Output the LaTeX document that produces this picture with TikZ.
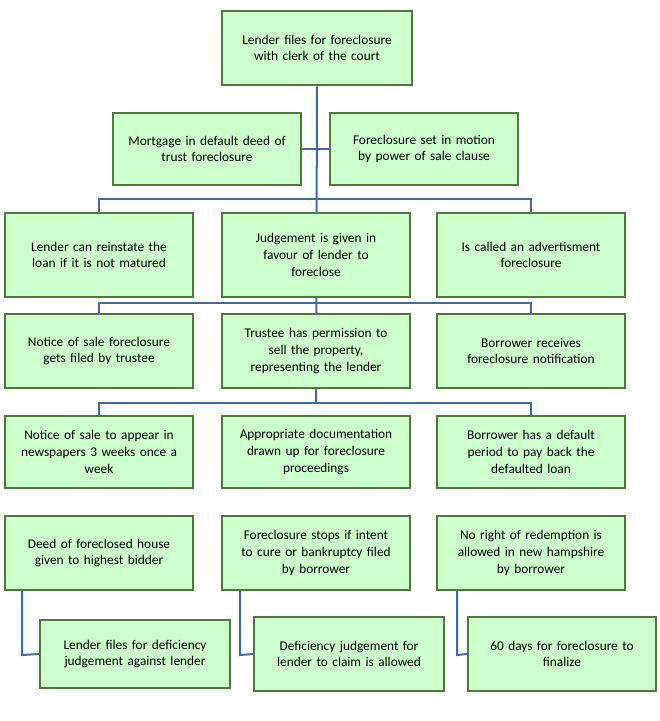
\documentclass[tikz,border=0pt]{standalone}
\usepackage{fontspec}
\setmainfont{Carlito}
\usetikzlibrary{backgrounds}
\definecolor{boxfill}{RGB}{204,255,204}
\definecolor{boxline}{RGB}{80,120,60}
\definecolor{wire}{RGB}{65,105,170}
\begin{document}
\begin{tikzpicture}[x=0.75pt,y=-0.75pt,
  step/.style={draw=boxline,line width=1.5pt,fill=boxfill,align=center,
    text width=#1,inner sep=0pt,font=\fontsize{10}{12.5}\selectfont},
  link/.style={draw=wire,line width=1.5pt}]
\useasboundingbox (0,0) rectangle (660,721);
% top of the tree
\node[step=143pt,minimum height=56pt] (file) at (317,48) {Lender files for foreclosure\\with clerk of the court};
\node[step=141pt,minimum height=54pt] (deed) at (207,149) {Mortgage in default deed of\\trust foreclosure};
\node[step=141pt,minimum height=54pt] (sale) at (424,149) {Foreclosure set in motion\\by power of sale clause};
% three columns
\foreach \c/\x in {a/99,b/316,c/531} {
  \coordinate (t\c) at (\x,199);
  \coordinate (u\c) at (\x,303);
  \coordinate (v\c) at (\x,403);
}
\node[step=141pt,minimum height=63pt] (rein) at (99,255) {Lender can reinstate the\\loan if it is not matured};
\node[step=141pt,minimum height=63pt] (judg) at (316,255) {Judgement is given in\\favour of lender to\\foreclose};
\node[step=141pt,minimum height=63pt] (advt) at (531,255) {Is called an advertisment\\foreclosure};
\node[step=141pt,minimum height=55pt] (nots) at (99,351) {Notice of sale foreclosure\\gets filed by trustee};
\node[step=141pt,minimum height=55pt] (trus) at (316,351) {Trustee has permission to\\sell the property,\\representing the lender};
\node[step=141pt,minimum height=55pt] (recv) at (531,351) {Borrower receives\\foreclosure notification};
\node[step=141pt,minimum height=54pt] (news) at (99,452) {Notice of sale to appear in\\newspapers 3 weeks once a\\week};
\node[step=141pt,minimum height=54pt] (docs) at (316,452) {Appropriate documentation\\drawn up for foreclosure\\proceedings};
\node[step=141pt,minimum height=54pt] (perd) at (531,452) {Borrower has a default\\period to pay back the\\defaulted loan};
\node[step=141pt,minimum height=55pt] (bidd) at (99,553) {Deed of foreclosed house\\given to highest bidder};
\node[step=141pt,minimum height=55pt] (stop) at (316,553) {Foreclosure stops if intent\\to cure or bankruptcy filed\\by borrower};
\node[step=141pt,minimum height=55pt] (nored) at (531,553) {No right of redemption  is\\allowed in new hampshire\\by borrower};
\node[step=142pt,minimum height=51pt] (defl) at (135,654) {Lender files for deficiency\\judgement against lender};
\node[step=142pt,minimum height=55pt] (defj) at (349,654) {Deficiency judgement for\\lender to claim is  allowed};
\node[step=141pt,minimum height=55pt] (sixty) at (562,654) {60 days for foreclosure to\\finalize};
% connectors behind the boxes
\begin{scope}[on background layer]
\draw[link] (deed.east) -- (sale.west);
\draw[link] (file.south) -- (vb);
\draw[link] (rein.north) -- (ta) -- (tc) -- (advt.north);
\draw[link] (nots.north) -- (ua) -- (uc) -- (recv.north);
\draw[link] (news.north) -- (va) -- (vc) -- (perd.north);
\foreach \s/\t/\x in {bidd/defl/22,stop/defj/240,nored/sixty/457}
  \draw[link] (\x,590) -- (\x,655) -- (\t.west);
\end{scope}
\end{tikzpicture}
\end{document}
